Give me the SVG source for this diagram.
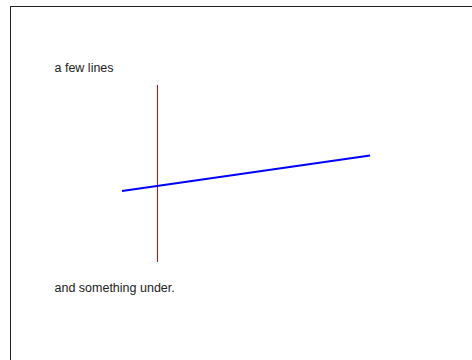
<svg xmlns="http://www.w3.org/2000/svg" width="472" height="360" viewBox="0 0 472 360">
<style>
text{font-family:"Liberation Sans",Arial,sans-serif;font-size:12.5px;fill:#222}
</style>
<rect width="472" height="360" fill="#fff"/>
<rect x="10.5" y="6.5" width="470" height="360" fill="none" stroke="#222" stroke-width="1"/>
<g id="labels">
<text x="54.5" y="72">a few lines</text>
<text x="54.5" y="292">and something under.</text>
</g>
<g id="connectors">
<line x1="157.5" y1="85" x2="157.5" y2="262" stroke="#e00" stroke-width="1"/>
<line x1="122" y1="191" x2="370" y2="155.5" stroke="#00f" stroke-width="2"/>
</g>
</svg>
